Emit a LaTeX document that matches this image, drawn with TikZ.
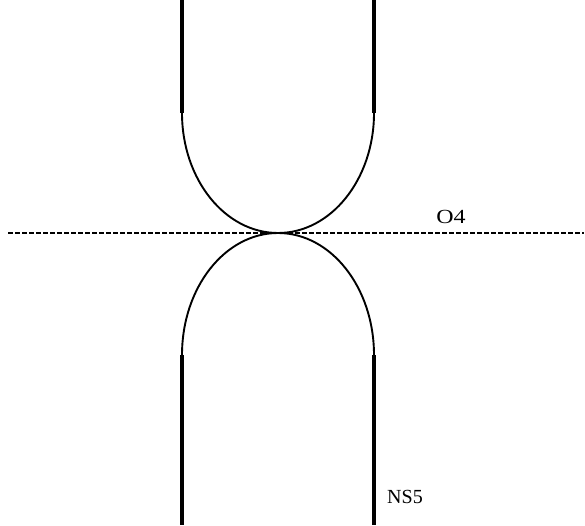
\documentclass[tikz,border=0pt]{standalone}
\usepackage{fontspec}
\setmainfont{Liberation Serif}
\begin{document}
\begin{tikzpicture}[x=1pt,y=1pt,
  brane/.style={line width=4pt},
  curve/.style={line width=1.9pt},
  plane/.style={line width=1.1pt,dash pattern=on 5pt off 2pt},
  lbl/.style={inner sep=0pt,font=\fontsize{20}{22}\selectfont}]
\useasboundingbox (0,0) rectangle (585,525);
\fill[white] (0,0) rectangle (585,525);
\coordinate (tl) at (182,412);
\coordinate (tr) at (374,412);
\coordinate (bl) at (182,170);
\coordinate (br) at (374,170);
\draw[brane] (182,525) -- (tl);
\draw[brane] (374,525) -- (tr);
\draw[brane] (bl) -- (182,0);
\draw[brane] (br) -- (374,0);
\draw[curve] (tl) arc[start angle=180,end angle=360,x radius=96,y radius=120];
\draw[curve] (bl) arc[start angle=180,end angle=0,x radius=96,y radius=122];
\coordinate (pl) at (8,292);
\coordinate (pr) at (584,292);
\draw[plane] (pl) -- (pr);
\node[lbl,xscale=1.2] (o4) at (451,308) {O4};
\node[lbl] (ns5) at (405,28) {NS5};
\end{tikzpicture}
\end{document}
